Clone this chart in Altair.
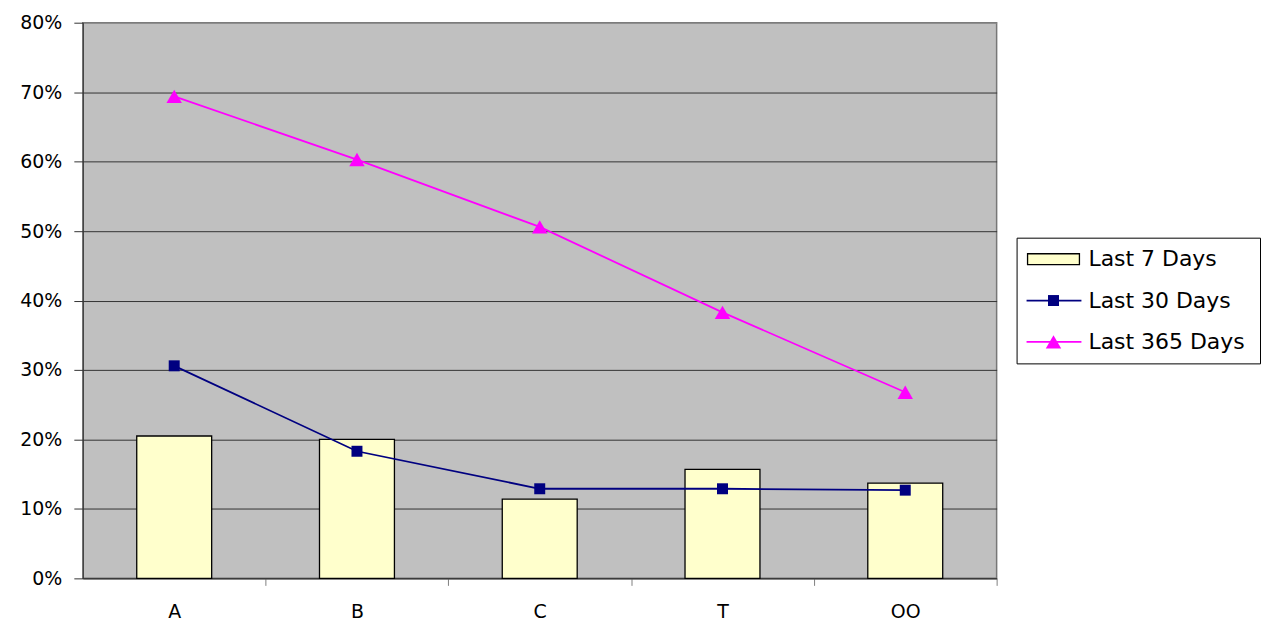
import altair as alt
import pandas as pd

# ---- data ----
categories = ["A", "B", "C", "T", "OO"]
last_7 = [0.205, 0.200, 0.114, 0.157, 0.137]
last_30 = [0.306, 0.183, 0.129, 0.129, 0.127]
last_365 = [0.694, 0.603, 0.506, 0.383, 0.268]
y_ticks = [0, 0.1, 0.2, 0.3, 0.4, 0.5, 0.6, 0.7, 0.8]

series = ["Last 7 Days", "Last 30 Days", "Last 365 Days"]
series_fill = ["#FFFFCC", "#000080", "#FF00FF"]
series_stroke = ["#000000", "#000080", "#FF00FF"]
series_shape = ["M-1,-0.21H1V0.21H-1Z", "square", "triangle-up"]
series_size = [2704, 121, 240]

FONT = "DejaVu Sans"

df = pd.DataFrame({"cat": categories, "last7": last_7, "last30": last_30, "last365": last_365})

W, H = 916, 557
STEP = W / len(categories)

x_enc = alt.X(
    "cat:N",
    sort=categories,
    scale=alt.Scale(paddingInner=0.59, paddingOuter=0.295),
    axis=alt.Axis(
        title=None, labelAngle=0, labelFontSize=19, labelColor="#000000", labelFont=FONT,
        tickOffset=STEP / 2, labelOffset=-STEP / 2, tickSize=7, tickColor="#808080",
        domainColor="#333333", labelPadding=17, grid=False,
    ),
)

y_scale = alt.Scale(domain=[0, 0.8], nice=False)
y_axis = alt.Axis(
    title=None, format=".0%", values=y_ticks, labelFontSize=19, labelColor="#000000",
    labelFont=FONT, tickSize=9, tickColor="#333333", domainColor="#333333",
    labelPadding=12, grid=True,
    gridColor={"condition": {"test": "datum.value >= 0.8", "value": "#888888"}, "value": "#333333"},
    gridOpacity=1, gridWidth=1,
)

bars = alt.Chart(df).mark_bar(fill=series_fill[0], stroke=series_stroke[0], strokeWidth=1.3).encode(
    x=x_enc, y=alt.Y("last7:Q", scale=y_scale, axis=y_axis)
)

line30 = alt.Chart(df).mark_line(
    color=series_stroke[1], strokeWidth=1.8,
    point=alt.OverlayMarkDef(shape=series_shape[1], size=series_size[1], filled=True, color=series_fill[1]),
).encode(x=x_enc, y=alt.Y("last30:Q", scale=y_scale, axis=y_axis))

line365 = alt.Chart(df).mark_line(
    color=series_stroke[2], strokeWidth=1.8,
    point=alt.OverlayMarkDef(shape=series_shape[2], size=series_size[2], filled=True, color=series_fill[2]),
).encode(x=x_enc, y=alt.Y("last365:Q", scale=y_scale, axis=y_axis))

main = alt.layer(bars, line30, line365).properties(
    width=W, height=H,
    view=alt.ViewBackground(fill="#C0C0C0", stroke="#777777", strokeWidth=1.5),
)

# ---- legend panel ----
leg_df = pd.DataFrame({"series": series, "idx": [0, 1, 2]})
ly = alt.Y("series:N", sort=series, scale=alt.Scale(type="point", padding=0.52), axis=None)


def leg_scale(rng):
    return alt.Scale(domain=series, range=rng)


leg_lines = alt.Chart(leg_df).transform_filter(alt.datum.idx > 0).mark_rule(strokeWidth=1.8).encode(
    x=alt.value(10), x2=alt.value(65), y=ly,
    color=alt.Color("series:N", scale=leg_scale(series_stroke), legend=None),
)

leg_layers = []
for i in range(3):
    leg_layers.append(
        alt.Chart(leg_df).transform_filter(alt.datum.idx == i).mark_point(
            filled=True, shape=series_shape[i], size=series_size[i], fill=series_fill[i],
            stroke=series_stroke[i], strokeWidth=1.3 if i == 0 else 0, opacity=1,
        ).encode(x=alt.value(37), y=ly)
    )

leg_text = alt.Chart(leg_df).mark_text(align="left", baseline="middle", fontSize=22, font=FONT, color="#000000").encode(
    x=alt.value(72), y=ly, text="series:N"
)

legend = alt.layer(leg_lines, *leg_layers, leg_text).properties(
    width=244, height=126,
    view=alt.ViewBackground(fill="#FFFFFF", stroke="#000000", strokeWidth=1),
)

chart = alt.hconcat(main, legend, spacing=20, center=True, bounds="flush").properties(
    padding={"left": 11, "top": 4, "right": 0, "bottom": 0},
    background="#FFFFFF",
).configure(font=FONT)

chart.save("out.html", embed_options={"renderer": "svg", "actions": False})
